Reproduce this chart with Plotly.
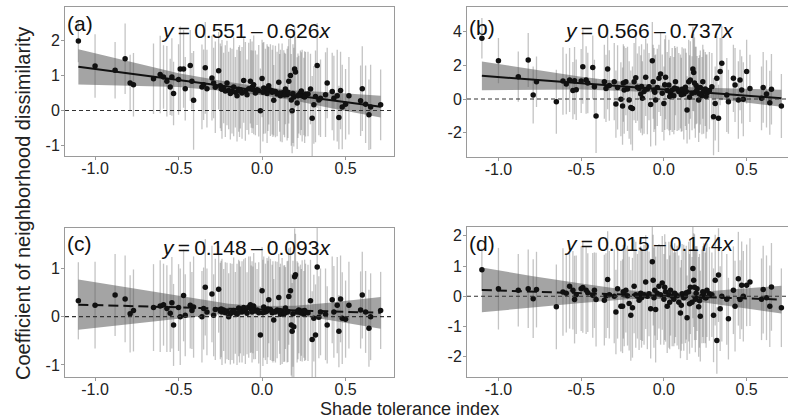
import plotly.graph_objects as go

# ---------------- data ----------------
shade_x = [-1.10, -1.00, -0.88, -0.82, -0.79, -0.77, -0.65, -0.61, -0.59, -0.57,
           -0.55, -0.54, -0.53, -0.50, -0.49, -0.47, -0.46, -0.43, -0.42, -0.41,
           -0.36, -0.35, -0.34, -0.33, -0.30, -0.29, -0.28, -0.26, -0.25, -0.24,
           -0.23, -0.22, -0.21, -0.20, -0.19, -0.18, -0.17, -0.16, -0.15, -0.14,
           -0.13, -0.12, -0.11, -0.10, -0.09, -0.08, -0.07, -0.065, -0.06, -0.05,
           -0.04, -0.03, -0.02, -0.01, 0.00, 0.01, 0.02, 0.03, 0.04, 0.05,
           0.06, 0.07, 0.08, 0.09, 0.10, 0.11, 0.12, 0.13, 0.14, 0.15,
           0.16, 0.17, 0.175, 0.18, 0.19, 0.195, 0.20, 0.21, 0.22, 0.23,
           0.24, 0.25, 0.26, 0.29, 0.30, 0.31, 0.32, 0.33, 0.34, 0.35,
           0.38, 0.39, 0.42, 0.43, 0.45, 0.46, 0.47, 0.48, 0.50, 0.52,
           0.59, 0.60, 0.62, 0.64, 0.65, 0.71,
           -0.245, -0.135, -0.055, 0.005, 0.035, 0.065, 0.105, 0.135, 0.155, 0.185,
           0.215, 0.235, 0.255, 0.275]

y_a = [1.97, 1.26, 1.14, 1.47, 0.78, 0.73, 0.90, 1.02, 0.95, 0.83,
       0.67, 0.95, 0.48, 0.88, 1.18, 1.18, 0.62, 1.28, 0.83, 0.29,
       0.67, 0.73, 1.21, 0.62, 0.92, 0.78, 0.66, 1.13, 0.70, 0.60,
       0.64, 0.55, 0.78, 0.57, 0.48, 0.55, 0.67, 0.52, 0.42, 0.60,
       0.59, 0.50, 0.85, 0.54, 0.45, 0.62, 0.83, 0.61, 0.66, 0.73,
       0.50, 0.59, 0.56, -0.01, 0.91, 0.64, 0.55, 0.48, 0.70, 0.58,
       0.52, 0.29, 0.54, 0.47, 0.80, 0.42, 0.50, 0.51, 0.61, 0.45,
       0.83, 0.99, 0.30, -0.01, 0.38, 1.18, 1.09, 0.21, 0.45, 0.50,
       0.42, 0.40, 0.46, 0.61, -0.22, 0.16, 0.40, 1.28, 0.30, 0.35,
       0.45, 0.78, 0.54, 0.35, 0.42, -0.20, 0.57, 0.10, 0.18, 0.42,
       0.28, 0.62, 0.18, -0.12, 0.10, 0.16,
       0.62, 0.55, 0.60, 0.52, 0.62, 0.55, 0.50, 0.44, 0.52, 0.48,
       0.42, 0.55, 0.38, 0.47]

y_b = [3.61, 2.28, 1.33, 2.32, 0.24, 1.03, -0.16, 1.07, 0.89, 1.13,
       0.50, 1.09, 0.55, 1.07, 1.92, 1.13, 0.95, 1.88, 0.73, -1.01,
       1.03, 0.63, 1.79, 0.80, 1.03, -0.30, 0.69, -0.02, -0.42, 0.54,
       1.03, 0.60, -0.06, -0.50, -0.56, 1.03, 1.27, 0.70, 0.63, 0.30,
       0.04, 0.44, 1.29, 0.60, 0.73, -0.32, 2.28, 1.03, 0.54, -0.06,
       0.69, 1.23, 1.49, 0.34, -0.26, 1.29, 0.50, 0.83, 0.35, 0.54,
       0.20, 1.03, 0.60, 0.44, 0.44, 0.58, 0.30, 0.70, -0.65, 1.03,
       1.13, 0.34, 1.79, 1.57, 0.40, 0.80, 0.55, -0.06, 0.69, 0.20,
       0.44, 0.60, 0.35, 0.73, -1.05, -0.26, 1.23, -1.15, 1.63, 2.12,
       0.24, -0.16, 1.23, 0.83, -0.06, 1.13, 0.54, -0.02, 1.63, 0.63,
       0.04, 0.69, 0.30, -0.22, 0.58, -0.42,
       0.95, 0.75, 0.40, 0.85, 0.15, 0.65, 0.25, 0.45, 0.10, 0.95,
       0.30, 1.03, 0.15, 0.50]

y_c = [0.33, 0.24, 0.45, 0.37, 0.06, 0.13, 0.19, 0.22, 0.25, 0.17,
       0.07, 0.29, -0.17, 0.19, 0.00, 0.44, 0.03, 0.24, 0.13, 0.20,
       0.00, 0.17, 0.61, 0.10, 0.47, 0.03, 0.15, 0.57, 0.12, 0.10,
       0.14, 0.08, 0.12, 0.00, 0.06, 0.10, 0.13, 0.08, 0.05, 0.18,
       0.14, 0.10, 0.19, 0.12, 0.07, 0.20, 0.25, 0.16, 0.10, 0.22,
       0.12, 0.14, 0.08, -0.38, 0.54, 0.20, 0.10, 0.12, 0.35, 0.15,
       0.08, -0.07, 0.10, 0.14, 0.40, 0.05, 0.12, 0.06, 0.18, 0.10,
       0.42, 0.54, -0.17, -0.30, -0.21, 0.83, 0.87, 0.10, 0.14, 0.08,
       0.12, 0.05, 0.10, 0.33, -0.47, -0.03, -0.38, 1.03, -0.01, 0.10,
       0.05, -0.17, 0.35, 0.10, 0.24, -0.30, 0.37, -0.03, -0.05, 0.24,
       0.14, 0.45, 0.10, -0.24, 0.00, 0.13,
       0.16, 0.10, 0.14, 0.08, 0.16, 0.10, 0.13, 0.07, 0.11, 0.06,
       0.12, 0.09, 0.13, 0.08]

y_d = [0.88, 0.25, 0.20, 0.25, -0.08, 0.22, -0.35, 0.14, 0.10, 0.33,
       0.20, -0.11, 0.05, 0.25, 0.29, 0.20, 0.12, 0.03, 0.20, -0.11,
       -0.13, 0.02, 0.55, 0.05, 0.00, -0.52, 0.25, -0.33, -0.33, 0.05,
       0.20, 0.02, -0.24, -0.63, -0.38, 0.33, 0.05, 0.00, -0.13, 0.10,
       0.02, 0.05, 0.47, 0.00, 0.08, -0.41, 1.14, 0.53, -0.05, -0.44,
       0.10, 0.33, 0.05, 0.44, -0.10, 0.15, -0.33, 0.05, 0.20, 0.00,
       -0.10, 0.05, 0.02, -0.20, -0.55, 0.08, -0.05, 0.00, -0.71, 0.15,
       0.30, -0.20, 0.92, 0.53, -0.10, 0.10, 0.25, -0.35, -0.66, 0.00,
       0.10, -0.05, 0.20, 0.05, -0.63, 0.53, -1.46, 0.70, -0.41, 0.00,
       -0.10, -0.74, 0.20, -0.33, 0.58, -0.11, 0.36, 0.00, 0.36, 0.47,
       -0.10, 0.22, -0.05, -0.33, 0.31, -0.38,
       0.15, -0.05, 0.20, 0.30, -0.20, 0.10, -0.30, 0.12, -0.25, 0.30,
       -0.15, 0.15, -0.05, 0.08]

err_a = [0.6, 0.9, 0.8, 1.0, 0.8, 0.9, 1.0, 1.1, 0.9, 1.0,
         0.8, 1.1, 0.9, 1.0, 1.2, 1.1, 0.9, 1.0, 0.8, 1.4,
         1.2, 1.0, 1.3, 1.1, 1.2, 1.0, 1.3, 1.1, 1.2, 1.4,
         1.0, 1.3, 1.2, 1.1, 1.3, 1.2, 1.4, 1.0, 1.3, 1.2,
         1.1, 1.3, 1.2, 1.4, 1.0, 1.3, 1.2, 1.1, 1.3, 1.4,
         1.2, 1.0, 1.3, 1.2, 1.1, 1.3, 1.2, 1.4, 1.1, 1.3,
         1.2, 1.0, 1.3, 1.2, 1.1, 1.3, 1.4, 1.2, 1.0, 1.3,
         1.2, 1.1, 1.3, 1.2, 1.4, 1.2, 1.0, 1.3, 1.1, 1.2,
         1.3, 1.1, 1.2, 1.0, 1.2, 1.1, 1.3, 1.2, 1.0, 1.1,
         1.2, 1.0, 1.1, 1.2, 1.3, 0.9, 1.1, 1.2, 1.0, 1.1,
         1.0, 1.2, 1.1, 1.0, 1.2, 1.0,
         1.2, 1.3, 1.1, 1.4, 1.2, 1.3, 1.1, 1.2, 1.3, 1.4,
         1.2, 1.1, 1.3, 1.2]

err_b = [1.2, 1.35, 1.5, 1.6, 1.7, 1.5, 1.9, 2.0, 1.8, 1.9,
         1.7, 2.0, 1.8, 1.9, 2.2, 2.0, 1.8, 1.9, 1.6, 2.2,
         2.2, 2.0, 2.4, 2.1, 2.3, 2.0, 2.5, 2.2, 2.3, 2.6,
         2.0, 2.5, 2.3, 2.2, 2.5, 2.3, 2.7, 2.0, 2.5, 2.3,
         2.2, 2.5, 2.3, 2.7, 2.0, 2.5, 2.3, 2.2, 2.5, 2.7,
         2.3, 2.0, 2.5, 2.3, 2.2, 2.5, 2.3, 2.7, 2.2, 2.5,
         2.3, 2.0, 2.5, 2.3, 2.2, 2.5, 2.7, 2.3, 2.0, 2.5,
         2.3, 2.2, 2.5, 2.3, 2.7, 2.3, 2.0, 2.5, 2.2, 2.3,
         2.5, 2.2, 2.3, 2.0, 2.3, 2.2, 2.5, 2.0, 2.0, 2.2,
         2.2, 1.9, 2.0, 2.2, 2.3, 1.8, 2.0, 2.2, 1.9, 2.0,
         1.9, 2.1, 2.0, 1.9, 2.1, 1.9,
         2.3, 2.5, 2.2, 2.7, 2.3, 2.5, 2.2, 2.3, 2.5, 2.7,
         2.3, 2.2, 2.5, 2.3]

err_c = [0.8, 0.9, 0.85, 0.9, 0.8, 0.85, 0.9, 0.95, 0.85, 0.9,
         0.8, 0.95, 0.85, 0.9, 1.0, 0.95, 0.85, 0.9, 0.8, 1.05,
         0.95, 0.85, 1.0, 0.9, 1.0, 0.85, 1.05, 0.9, 1.0, 1.1,
         0.85, 1.05, 1.0, 0.9, 1.05, 1.0, 1.1, 0.85, 1.05, 1.0,
         0.9, 1.05, 1.0, 1.1, 0.85, 1.05, 1.0, 0.9, 1.05, 1.1,
         1.0, 0.85, 1.05, 1.0, 0.9, 1.05, 1.0, 1.1, 0.9, 1.05,
         1.0, 0.85, 1.05, 1.0, 0.9, 1.05, 1.1, 1.0, 0.85, 1.05,
         1.0, 0.9, 1.05, 1.0, 1.1, 1.0, 0.85, 1.05, 0.9, 1.0,
         1.05, 0.9, 1.0, 0.85, 1.0, 0.9, 1.05, 1.0, 0.85, 0.9,
         0.95, 0.8, 0.9, 0.95, 1.0, 0.75, 0.9, 0.95, 0.8, 0.9,
         0.8, 0.9, 0.85, 0.8, 0.9, 0.8,
         1.0, 1.05, 0.9, 1.1, 1.0, 1.05, 0.9, 1.0, 1.05, 1.1,
         1.0, 0.9, 1.05, 1.0]

err_d = [0.7, 1.35, 1.2, 1.3, 1.3, 1.25, 1.4, 1.45, 1.3, 1.4,
         1.3, 1.45, 1.3, 1.4, 1.5, 1.45, 1.3, 1.4, 1.25, 1.55,
         1.5, 1.4, 1.6, 1.45, 1.55, 1.4, 1.65, 1.5, 1.55, 1.7,
         1.4, 1.65, 1.55, 1.5, 1.65, 1.55, 1.75, 1.4, 1.65, 1.55,
         1.5, 1.65, 1.55, 1.75, 1.4, 1.65, 1.55, 1.5, 1.65, 1.75,
         1.55, 1.4, 1.65, 1.55, 1.5, 1.65, 1.55, 1.75, 1.5, 1.65,
         1.55, 1.4, 1.65, 1.55, 1.5, 1.65, 1.75, 1.55, 1.4, 1.65,
         1.55, 1.5, 1.65, 1.55, 1.75, 1.55, 1.4, 1.65, 1.5, 1.55,
         1.65, 1.5, 1.55, 1.4, 1.55, 1.5, 1.1, 1.55, 1.4, 1.5,
         1.5, 1.35, 1.45, 1.5, 1.55, 1.3, 1.45, 1.5, 1.35, 1.45,
         1.35, 1.45, 1.4, 1.35, 1.45, 1.3,
         1.55, 1.65, 1.5, 1.75, 1.55, 1.65, 1.5, 1.55, 1.65, 1.75,
         1.55, 1.5, 1.65, 1.55]

# regression coefficients (from the printed equations)
intercepts = [0.551, 0.566, 0.148, 0.015]
slopes = [-0.626, -0.737, -0.093, -0.174]
equations = ["0.551 \u2013 0.626", "0.566 \u2013 0.737", "0.148 \u2013 0.093", "0.015 \u2013 0.174"]

# confidence band
band_x = [-1.10, -0.80, -0.50, -0.20, 0.00, 0.20, 0.40, 0.71]
band_lo_a = [0.74, 0.70, 0.67, 0.54, 0.43, 0.28, 0.08, -0.20]
band_hi_a = [1.74, 1.40, 1.06, 0.81, 0.67, 0.57, 0.52, 0.42]
band_lo_b = [0.52, 0.56, 0.56, 0.46, 0.35, 0.15, -0.10, -0.46]
band_hi_b = [2.23, 1.76, 1.32, 0.96, 0.79, 0.69, 0.64, 0.55]
band_lo_c = [-0.27, -0.16, -0.05, 0.07, 0.08, 0.03, -0.07, -0.25]
band_hi_c = [0.77, 0.60, 0.44, 0.27, 0.22, 0.23, 0.29, 0.41]
band_lo_d = [-0.53, -0.37, -0.22, -0.09, -0.09, -0.17, -0.33, -0.57]
band_hi_d = [0.95, 0.67, 0.42, 0.19, 0.12, 0.13, 0.22, 0.35]

panel_labels = ["(a)", "(b)", "(c)", "(d)"]
x_tickvals = [-1.0, -0.5, 0.0, 0.5]
x_ticktext = ["-1.0", "-0.5", "0.0", "0.5"]
y_tickvals = [[-1, 0, 1, 2], [-2, 0, 2, 4], [-1, 0, 1], [-2, -1, 0, 1, 2]]
y_ticktext = [["-1", "0", "1", "2"], ["-2", "0", "2", "4"], ["-1", "0", "1"], ["-2", "-1", "0", "1", "2"]]

# ---------------- layout geometry ----------------
W, H = 788, 419
FONT = "Liberation Sans, Arial, sans-serif"

panels = [
    dict(y=y_a, e=err_a, lo=band_lo_a, hi=band_hi_a, dash="solid",
         xdom=[65 / W, 394 / W], ydom=[1 - 156 / H, 1 - 6.5 / H],
         xr=[-1.18, 0.79], yr=[-1.29, 2.95],
         lab=(65, 23), eq=(246, 30)),
    dict(y=y_b, e=err_b, lo=band_lo_b, hi=band_hi_b, dash="solid",
         xdom=[467 / W, 1.0], ydom=[1 - 156.7 / H, 1 - 6.5 / H],
         xr=[-1.19, 0.75], yr=[-3.43, 5.5],
         lab=(467, 27), eq=(649, 30)),
    dict(y=y_c, e=err_c, lo=band_lo_c, hi=band_hi_c, dash="10px,5px",
         xdom=[65 / W, 394 / W], ydom=[1 - 377 / H, 1 - 228 / H],
         xr=[-1.18, 0.79], yr=[-1.25, 1.84],
         lab=(65, 243), eq=(246, 248)),
    dict(y=y_d, e=err_d, lo=band_lo_d, hi=band_hi_d, dash="10px,5px",
         xdom=[467 / W, 1.0], ydom=[1 - 377 / H, 1 - 227 / H],
         xr=[-1.19, 0.75], yr=[-2.67, 2.29],
         lab=(467, 243), eq=(649, 243)),
]

fig = go.Figure()
layout = dict(width=W, height=H, margin=dict(l=0, r=0, t=0, b=0),
              paper_bgcolor="white", plot_bgcolor="white", showlegend=False,
              font=dict(family=FONT, color="#222222"))
annotations = []
shapes = []

xmin, xmax = min(shade_x), max(shade_x)

for i, p in enumerate(panels):
    sfx = "" if i == 0 else str(i + 1)
    xa, ya = "x" + sfx, "y" + sfx
    # error bars
    fig.add_trace(go.Scatter(
        x=shade_x, y=p["y"], mode="markers", xaxis=xa, yaxis=ya,
        marker=dict(size=1, color="rgba(0,0,0,0)"),
        error_y=dict(type="data", array=p["e"], visible=True,
                     color="rgba(100,100,100,0.38)", thickness=1.3, width=0),
        hoverinfo="skip"))
    # confidence band
    fig.add_trace(go.Scatter(x=band_x, y=p["lo"], mode="lines", xaxis=xa, yaxis=ya,
                             line=dict(width=0, color="rgba(0,0,0,0)"), hoverinfo="skip"))
    fig.add_trace(go.Scatter(x=band_x, y=p["hi"], mode="lines", xaxis=xa, yaxis=ya,
                             line=dict(width=0, color="rgba(0,0,0,0)"),
                             fill="tonexty", fillcolor="rgba(90,90,90,0.55)", hoverinfo="skip"))
    # regression line
    lx = [xmin, xmax]
    ly = [intercepts[i] + slopes[i] * v for v in lx]
    fig.add_trace(go.Scatter(x=lx, y=ly, mode="lines", xaxis=xa, yaxis=ya,
                             line=dict(color="#111111", width=2, dash=p["dash"]), hoverinfo="skip"))
    # points
    fig.add_trace(go.Scatter(x=shade_x, y=p["y"], mode="markers", xaxis=xa, yaxis=ya,
                             marker=dict(size=5.5, color="#111111"), hoverinfo="skip"))

    axis_common = dict(showline=True, mirror=True, linecolor="#9a9a9a", linewidth=1,
                       ticks="outside", ticklen=3, tickcolor="#9a9a9a",
                       showgrid=False, zeroline=False,
                       tickfont=dict(family=FONT, size=16, color="#222222"))
    layout["xaxis" + sfx] = dict(domain=p["xdom"], anchor=ya, range=p["xr"],
                                 tickvals=x_tickvals, ticktext=x_ticktext,
                                 ticklabelstandoff=-5, **axis_common)
    layout["yaxis" + sfx] = dict(domain=p["ydom"], anchor=xa, range=p["yr"],
                                 tickvals=y_tickvals[i], ticktext=y_ticktext[i],
                                 ticklabelstandoff=-2, **axis_common)

    # zero reference line
    shapes.append(dict(type="line", xref=xa + " domain", yref=ya, x0=0, x1=1, y0=0, y1=0,
                       line=dict(color="#333333", width=1.2, dash="4px,3px")))
    # panel label
    annotations.append(dict(text=panel_labels[i], xref="paper", yref="paper",
                            x=p["lab"][0] / W, y=1 - p["lab"][1] / H,
                            xanchor="left", yanchor="middle", showarrow=False,
                            font=dict(family=FONT, size=21, color="#111111")))
    # equation
    annotations.append(dict(text="<i>y</i>\u2009=\u2009" + equations[i].replace(" ", "\u2009") + "<i>x</i>",
                            xref="paper", yref="paper",
                            x=p["eq"][0] / W, y=1 - p["eq"][1] / H,
                            xanchor="center", yanchor="middle", showarrow=False,
                            font=dict(family=FONT, size=21, color="#111111")))

annotations.append(dict(text="Coefficient of neighborhood dissimilarity", xref="paper", yref="paper",
                        x=23 / W, y=1 - 204 / H, textangle=-90, showarrow=False,
                        xanchor="center", yanchor="middle",
                        font=dict(family=FONT, size=20, color="#222222")))
annotations.append(dict(text="Shade tolerance index", xref="paper", yref="paper",
                        x=409 / W, y=1 - 409 / H, showarrow=False,
                        xanchor="center", yanchor="middle",
                        font=dict(family=FONT, size=18, color="#222222")))

layout["annotations"] = annotations
layout["shapes"] = shapes
fig.update_layout(**layout)
fig.write_html("out.html", config={"displayModeBar": False},
               post_script="document.body.style.margin='0';document.body.style.overflow='hidden';")
